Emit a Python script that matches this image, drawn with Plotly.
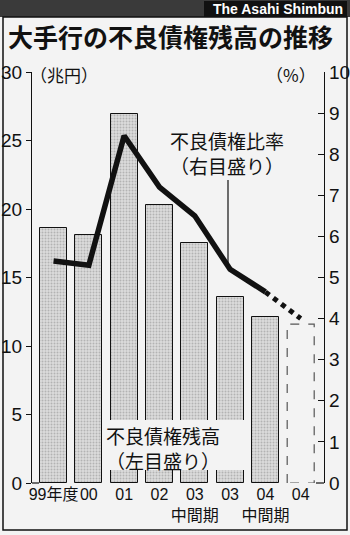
import plotly.graph_objects as go

# ---- data ----
periods = ["99年度", "00", "01", "02", "03<br>中間期", "03", "04<br>中間期", "04"]
npl_amount = [18.6, 18.1, 26.9, 20.3, 17.5, 13.6, 12.1, None]   # 兆円 (left)
npl_target = [None, None, None, None, None, None, None, 11.6]   # 04 target (dashed)
npl_ratio = [5.4, 5.3, 8.45, 7.2, 6.5, 5.2, 4.65]                # % (right)
ratio_target = [4.65, 4.0]                                       # 04中間期 -> 04
left_ticks = [0, 5, 10, 15, 20, 25, 30]
right_ticks = list(range(0, 11))

W, H = 350, 535
L, R, T, B = 32, 324, 72, 483
BAR_W = 0.765
PAPER = "#f3f3f3"
FONT_NUM = "Liberation Sans Narrow, Liberation Sans, Noto Sans CJK JP"
FONT_JP = "Noto Sans CJK JP"

def px(x):
    return (x - L) / (R - L)

def py(y):
    return (B - y) / (B - T)

xs = list(range(len(periods)))

fig = go.Figure()

# bars (actual)
fig.add_trace(go.Bar(
    x=xs, y=npl_amount, width=BAR_W,
    marker=dict(color="#d4d4d4",
                line=dict(color="#111", width=1),
                pattern=dict(shape=".", fgcolor="#8a8a8a", bgcolor="#dcdcdc",
                             size=3, solidity=0.35)),
    showlegend=False, hoverinfo="skip", yaxis="y"))

# target bar (dashed outline)
for i, v in enumerate(npl_target):
    if v is None:
        continue
    fig.add_trace(go.Scatter(
        x=[i - BAR_W / 2, i - BAR_W / 2, i + BAR_W / 2, i + BAR_W / 2, i - BAR_W / 2],
        y=[0, v, v, 0, 0], mode="lines", fill="toself", fillcolor=PAPER,
        line=dict(color="#555", width=1.2, dash="dash"),
        showlegend=False, hoverinfo="skip", yaxis="y"))

# paper box behind the left-scale label
fig.add_shape(type="rect", xref="paper", yref="paper",
              x0=px(104), x1=px(247), y0=py(470), y1=py(420),
              fillcolor=PAPER, line=dict(width=0), layer="above")

# ratio line
fig.add_trace(go.Scatter(
    x=xs[:len(npl_ratio)], y=npl_ratio, mode="lines",
    line=dict(color="#111", width=5.5), yaxis="y2",
    showlegend=False, hoverinfo="skip"))
fig.add_trace(go.Scatter(
    x=[len(npl_ratio) - 1, len(npl_ratio)], y=ratio_target, mode="lines",
    line=dict(color="#111", width=5, dash="dot"), yaxis="y2",
    showlegend=False, hoverinfo="skip"))

# leader line
fig.add_shape(type="line", xref="paper", yref="paper",
              x0=px(228), x1=px(228), y0=py(180), y1=py(266),
              line=dict(color="#111", width=1.2))

# axis feet
fig.add_shape(type="line", xref="paper", yref="paper",
              x0=px(32), x1=px(39), y0=0, y1=0, line=dict(color="#111", width=1.2))
fig.add_shape(type="line", xref="paper", yref="paper",
              x0=px(316), x1=px(324), y0=0, y1=0, line=dict(color="#111", width=1.2))

# header band and frame
fig.add_shape(type="rect", xref="paper", yref="paper",
              x0=px(0), x1=px(350), y0=py(17), y1=py(0),
              fillcolor="#3a3a3a", line=dict(width=0))
fig.add_shape(type="rect", xref="paper", yref="paper",
              x0=px(204), x1=px(347), y0=py(17), y1=py(1),
              fillcolor="#111", line=dict(width=0))
fig.add_shape(type="rect", xref="paper", yref="paper",
              x0=px(3), x1=px(347), y0=py(530), y1=py(17),
              line=dict(color="#111", width=1.5))

ann = []
def text(t, x, y, size, xanchor="left", color="#111", font=FONT_JP, bold=False):
    ann.append(dict(text=("<b>%s</b>" % t) if bold else t, xref="paper", yref="paper",
                    x=px(x), y=py(y), xanchor=xanchor, yanchor="middle", align="left",
                    showarrow=False, font=dict(size=size, color=color, family=font)))

text("The Asahi Shimbun", 345, 9, 14, xanchor="right", color="white",
     font="Liberation Sans, Arial", bold=True)
text("大手行の不良債権残高の推移", 6, 36, 25, bold=True)
text("（兆円）", 28, 74, 17)
text("（%）", 318, 74, 17, xanchor="right")
text("不良債権比率<br>（右目盛り）", 168, 153, 19)
text("不良債権残高<br>（左目盛り）", 104, 448, 19)

fig.update_layout(
    width=W, height=H,
    margin=dict(l=L, r=W - R, t=T, b=H - B, pad=0, autoexpand=False),
    paper_bgcolor=PAPER, plot_bgcolor=PAPER,
    annotations=ann,
    bargap=0,
    xaxis=dict(range=[-0.61, 7.66], tickmode="array", tickvals=xs, ticktext=periods,
               showgrid=False, zeroline=False, showline=False, ticks="", tickangle=0,
               automargin=False,
               tickfont=dict(size=16, family=FONT_NUM, color="#111"), fixedrange=True),
    yaxis=dict(range=[0, 30], tickmode="array", tickvals=left_ticks, automargin=False,
               showgrid=False, zeroline=False, showline=True, linecolor="#111", linewidth=1.3,
               ticks="outside", ticklen=5, tickcolor="#111", tickwidth=1.2,
               tickfont=dict(size=19, family=FONT_NUM, color="#111")),
    yaxis2=dict(range=[0, 10], tickmode="array", tickvals=right_ticks, overlaying="y",
                side="right", showgrid=False, zeroline=False, showline=True, automargin=False,
                linecolor="#111", linewidth=1.3, ticks="inside", ticklen=6,
                tickcolor="#111", tickwidth=1.2,
                tickfont=dict(size=19, family=FONT_NUM, color="#111")),
)

fig.write_html("out.html")
